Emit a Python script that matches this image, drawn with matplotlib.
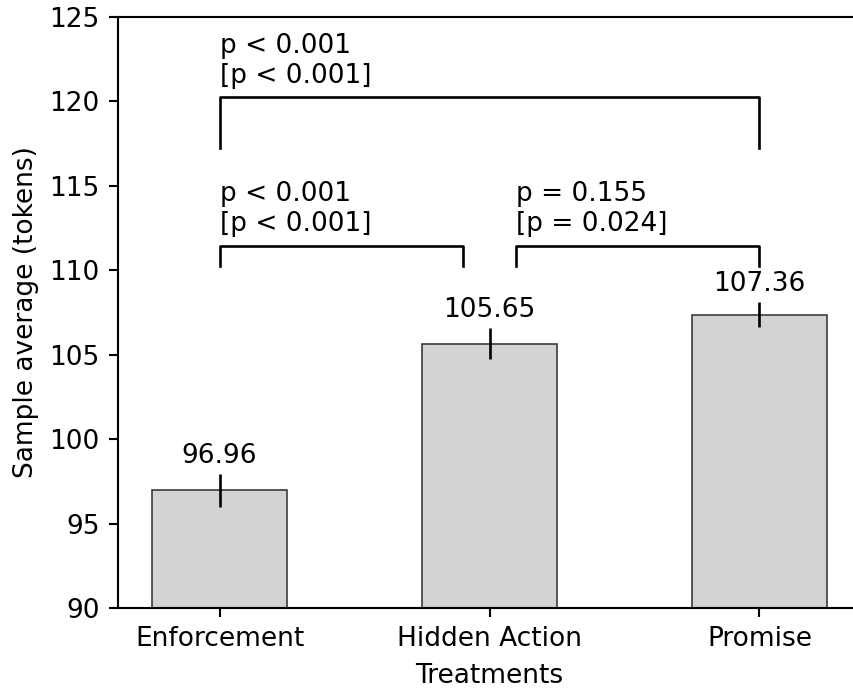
import numpy as np
import matplotlib as mpl
mpl.use("Agg")
import matplotlib.pyplot as plt

# data
treatments = ['Enforcement', 'Hidden Action', 'Promise']
means = [96.96, 105.65, 107.36]
errs = [0.98, 0.92, 0.74]

# pairwise comparisons: (left x, right x, bracket height, leg length, label)
comparisons = [
    (0.0, 2.0, 120.25, 3.0, 'p < 0.001\n[p < 0.001]'),
    (0.0, 0.9, 111.45, 1.2, 'p < 0.001\n[p < 0.001]'),
    (1.1, 2.0, 111.45, 1.2, 'p = 0.155\n[p = 0.024]'),
]

dpi = 190
fig = plt.figure(figsize=(853 / dpi, 689 / dpi), dpi=dpi)
W, H = 853.0, 689.0
ax = fig.add_axes([118 / W, (H - 608) / H, 743 / W, 591 / H])

x = np.arange(len(treatments))
ax.bar(x, means, width=0.5, color='lightgray', edgecolor='0.2', linewidth=0.6)
ax.errorbar(x, means, yerr=errs, fmt='none', ecolor='black', elinewidth=1, capsize=0)

for xi, m, e in zip(x, means, errs):
    ax.text(xi, m + e + 0.3, '%.2f' % m, ha='center', va='bottom')

for x1, x2, y, leg, label in comparisons:
    ax.plot([x1, x1, x2, x2], [y - leg, y, y, y - leg], color='black', lw=1)
    ax.text(x1, y + 0.5, label, ha='left', va='bottom')

ax.set_xlim(-0.376, 2.376)
ax.set_ylim(90, 125)
ax.set_xticks(x)
ax.set_xticklabels(treatments)
ax.set_xlabel('Treatments')
ax.set_ylabel('Sample average (tokens)')

fig.savefig('out.png', dpi=dpi)
